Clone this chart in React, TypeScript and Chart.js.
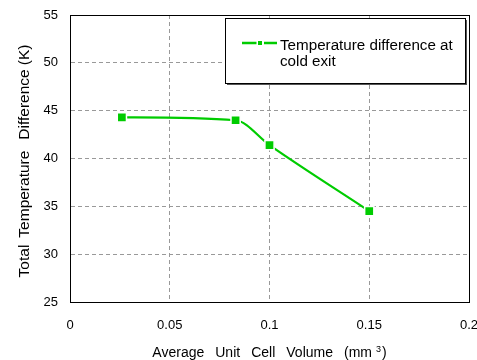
import { useEffect, useRef } from 'react';
import { Chart, registerables } from 'chart.js';

Chart.register(...registerables);

// Average unit cell volume (mm^3) vs. total temperature difference (K)
const unitCellVolume = [0.026, 0.083, 0.1, 0.15];
const tempDifference = [44.3, 44.0, 41.4, 34.5];

const seriesLabel = 'Temperature difference at cold exit';
const legendLines = ['Temperature difference at', 'cold exit'];

const xTicks = [0, 0.05, 0.1, 0.15, 0.2];
const yTicks = [25, 30, 35, 40, 45, 50, 55];

const xTitleWords = ['Average', 'Unit', 'Cell', 'Volume', '(mm'];
const xTitleSup = '3';
const xTitleTail = ')';
const yTitleWords = ['Total', 'Temperature', 'Difference', '(K)'];
const yTitleGaps = [7, 11, 4];

const FONT = '"Liberation Sans", Arial, sans-serif';
const GREEN = '#00cc00';

const framePlugin = {
  id: 'frameAndTitles',
  beforeDatasetsDraw(chart: any) {
    const { ctx, chartArea: a } = chart;
    ctx.save();
    ctx.strokeStyle = '#000';
    ctx.lineWidth = 1;
    ctx.strokeRect(
      Math.round(a.left) + 0.5,
      Math.round(a.top) + 0.5,
      Math.round(a.right - a.left),
      Math.round(a.bottom - a.top)
    );
    ctx.restore();
  },
  afterDraw(chart: any) {
    const { ctx, chartArea: a } = chart;
    ctx.save();
    ctx.fillStyle = '#000';

    // x-axis title, words spread apart
    ctx.font = `14px ${FONT}`;
    ctx.textBaseline = 'alphabetic';
    ctx.textAlign = 'left';
    const gap = 11;
    const supFont = `9px ${FONT}`;
    let total = 0;
    xTitleWords.forEach((w, i) => {
      total += ctx.measureText(w).width + (i > 0 ? gap : 0);
    });
    ctx.font = supFont;
    const supW = ctx.measureText(xTitleSup).width;
    ctx.font = `14px ${FONT}`;
    const tailW = ctx.measureText(xTitleTail).width;
    total += 4 + supW + 1 + tailW;
    let x = (a.left + a.right) / 2 - total / 2;
    const baseY = 356.5;
    xTitleWords.forEach((w, i) => {
      if (i > 0) x += gap;
      ctx.fillText(w, x, baseY);
      x += ctx.measureText(w).width;
    });
    x += 4;
    ctx.font = supFont;
    ctx.fillText(xTitleSup, x, baseY - 5);
    x += supW + 1;
    ctx.font = `14px ${FONT}`;
    ctx.fillText(xTitleTail, x, baseY);

    // y-axis title, rotated
    ctx.save();
    ctx.font = `15.5px ${FONT}`;
    ctx.translate(28.5, 161);
    ctx.rotate(-Math.PI / 2);
    const widths = yTitleWords.map((p) => ctx.measureText(p).width);
    const yTotal =
      widths.reduce((s, w) => s + w, 0) + yTitleGaps.reduce((s, g) => s + g, 0);
    let yx = -yTotal / 2;
    yTitleWords.forEach((p, i) => {
      ctx.fillText(p, yx, 0);
      yx += widths[i] + (yTitleGaps[i] || 0);
    });
    ctx.restore();

    // legend box with a thin drop shadow
    const bx = 225.5;
    const by = 18.5;
    const bw = 240;
    const bh = 65;
    ctx.fillStyle = '#555';
    ctx.fillRect(bx + 1.5, by + 1.5, bw, bh);
    ctx.fillStyle = '#fff';
    ctx.fillRect(bx, by, bw, bh);
    ctx.strokeStyle = '#000';
    ctx.lineWidth = 1;
    ctx.strokeRect(bx, by, bw, bh);

    const color = chart.data.datasets[0].borderColor;
    ctx.strokeStyle = color;
    ctx.lineWidth = 2.5;
    ctx.beginPath();
    ctx.moveTo(242, 43);
    ctx.lineTo(256.5, 43);
    ctx.moveTo(264, 43);
    ctx.lineTo(277, 43);
    ctx.stroke();
    ctx.fillStyle = color;
    ctx.fillRect(258, 41, 4, 4);

    ctx.fillStyle = '#000';
    ctx.font = `15.2px ${FONT}`;
    ctx.textAlign = 'left';
    ctx.fillText(legendLines[0], 280, 50);
    ctx.fillText(legendLines[1], 280, 65.5);
    ctx.restore();
  },
};

export default function App() {
  const canvasRef = useRef<HTMLCanvasElement | null>(null);

  useEffect(() => {
    if (!canvasRef.current) return;
    const chart = new Chart(canvasRef.current, {
      type: 'line',
      data: {
        datasets: [
          {
            label: seriesLabel,
            data: unitCellVolume.map((v, i) => ({ x: v, y: tempDifference[i] })),
            borderColor: GREEN,
            backgroundColor: GREEN,
            borderWidth: 2.2,
            cubicInterpolationMode: 'monotone',
            pointStyle: 'rect',
            pointRadius: 6.5,
            pointBorderWidth: 1.5,
            pointBorderColor: '#fff',
            pointBackgroundColor: GREEN,
            fill: false,
          },
        ],
      },
      options: {
        animation: false,
        responsive: false,
        events: [],
        layout: { autoPadding: false, padding: { top: 15, right: 8, left: 0, bottom: 0 } },
        plugins: {
          legend: { display: false },
          title: { display: false },
          tooltip: { enabled: false },
        },
        scales: {
          x: {
            type: 'linear',
            min: 0,
            max: 0.2,
            afterBuildTicks: (scale: any) => {
              scale.ticks = xTicks.map((v) => ({ value: v }));
            },
            afterFit: (scale: any) => {
              scale.height = 58;
              scale.paddingLeft = 0;
              scale.paddingRight = 0;
            },
            ticks: {
              color: '#000',
              font: { family: FONT, size: 13 },
              padding: 16,
              maxRotation: 0,
              autoSkip: false,
              callback: (v: any) => String(v),
            },
            grid: { color: '#999', lineWidth: 1, drawTicks: false },
            border: { color: '#000', width: 1, dash: [4, 3] },
          },
          y: {
            type: 'linear',
            min: 25,
            max: 55,
            afterBuildTicks: (scale: any) => {
              scale.ticks = yTicks.map((v) => ({ value: v }));
            },
            afterFit: (scale: any) => {
              scale.width = 70;
              scale.paddingTop = 0;
              scale.paddingBottom = 0;
            },
            ticks: {
              color: '#000',
              font: { family: FONT, size: 13 },
              padding: 12,
              autoSkip: false,
              callback: (v: any) => String(v),
            },
            grid: { color: '#999', lineWidth: 1, drawTicks: false },
            border: { color: '#000', width: 1, dash: [4, 3] },
          },
        },
      },
      plugins: [framePlugin],
    });
    return () => chart.destroy();
  }, []);

  return (
    <div style={{ position: 'fixed', left: 0, top: 0, width: 477, height: 360, background: '#fff' }}>
      <canvas ref={canvasRef} width={477} height={360} />
    </div>
  );
}
